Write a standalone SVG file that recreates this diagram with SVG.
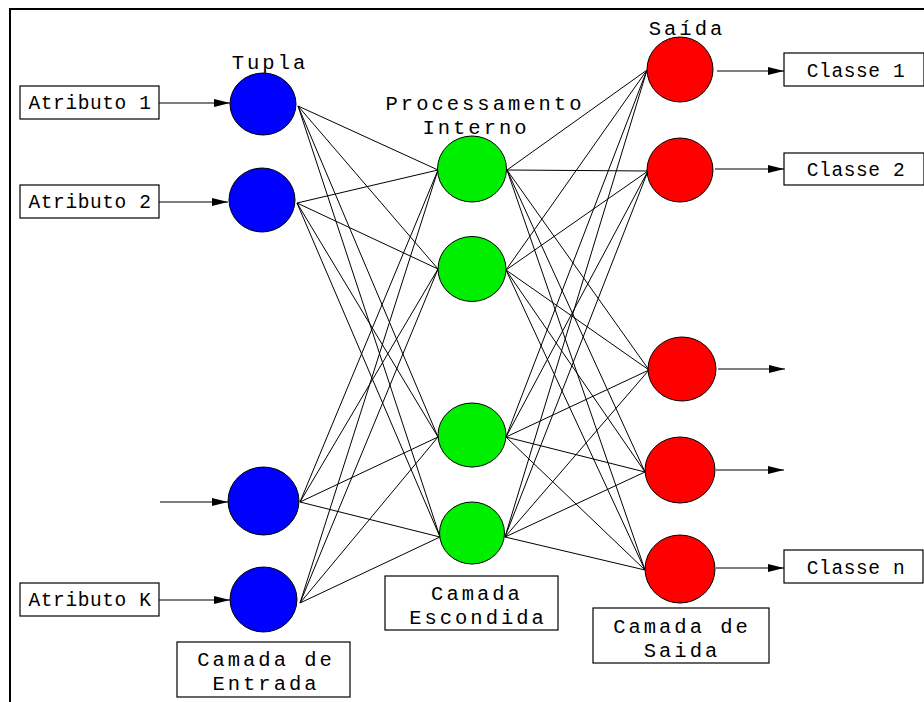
<svg xmlns="http://www.w3.org/2000/svg" width="924" height="702" viewBox="0 0 924 702">
  <style>
    .frame { fill: none; stroke: #000; stroke-width: 2; }
    .box { fill: #fff; stroke: #000; stroke-width: 1.2; }
    .lbl { font-family: "Liberation Mono", "DejaVu Sans Mono", monospace; fill: #000; text-anchor: middle; }
    .small { font-size: 19.5px; letter-spacing: 0.6px; }
    .big { font-size: 20.5px; letter-spacing: 3px; }
    .edge { stroke: #000; stroke-width: 1; fill: none; }
    .arrow { stroke: #000; stroke-width: 1.2; fill: none; marker-end: url(#tip); }
    .in { fill: #0000ff; stroke: #000; stroke-width: 1; }
    .hid { fill: #00ee00; stroke: #000; stroke-width: 1; }
    .out { fill: #ff0000; stroke: #000; stroke-width: 1; }
  </style>
  <defs>
    <marker id="tip" viewBox="0 0 16 8" refX="16" refY="4" markerWidth="16" markerHeight="8" markerUnits="userSpaceOnUse" orient="auto">
      <path d="M0,0 L16,4 L0,8 Z" fill="#000"/>
    </marker>
  </defs>

  <rect width="924" height="702" fill="#fff"/>
  <!-- page border: top and left edges -->
  <path class="frame" d="M10,702 L10,9 L924,9"/>

  <!-- connectors -->
  <g id="connectors">
    <!-- input layer to hidden layer -->
    <g id="in-hidden">
      <line class="edge" x1="298" y1="106" x2="438" y2="170"/>
      <line class="edge" x1="298" y1="106" x2="438" y2="269"/>
      <line class="edge" x1="298" y1="106" x2="438" y2="437"/>
      <line class="edge" x1="298" y1="106" x2="440" y2="537"/>
      <line class="edge" x1="297" y1="203" x2="438" y2="170"/>
      <line class="edge" x1="297" y1="203" x2="438" y2="269"/>
      <line class="edge" x1="297" y1="203" x2="438" y2="437"/>
      <line class="edge" x1="297" y1="203" x2="440" y2="537"/>
      <line class="edge" x1="300" y1="502" x2="438" y2="170"/>
      <line class="edge" x1="300" y1="502" x2="438" y2="269"/>
      <line class="edge" x1="300" y1="502" x2="438" y2="437"/>
      <line class="edge" x1="300" y1="502" x2="440" y2="537"/>
      <line class="edge" x1="300" y1="603" x2="438" y2="170"/>
      <line class="edge" x1="300" y1="603" x2="438" y2="269"/>
      <line class="edge" x1="300" y1="603" x2="438" y2="437"/>
      <line class="edge" x1="300" y1="603" x2="440" y2="537"/>
    </g>
    <!-- hidden layer to output layer -->
    <g id="hidden-out">
      <line class="edge" x1="507" y1="170" x2="647" y2="70"/>
      <line class="edge" x1="507" y1="170" x2="648" y2="171"/>
      <line class="edge" x1="507" y1="170" x2="649" y2="370"/>
      <line class="edge" x1="507" y1="170" x2="645" y2="472"/>
      <line class="edge" x1="507" y1="170" x2="645" y2="570"/>
      <line class="edge" x1="506" y1="270" x2="647" y2="70"/>
      <line class="edge" x1="506" y1="270" x2="648" y2="171"/>
      <line class="edge" x1="506" y1="270" x2="649" y2="370"/>
      <line class="edge" x1="506" y1="270" x2="645" y2="472"/>
      <line class="edge" x1="506" y1="270" x2="645" y2="570"/>
      <line class="edge" x1="506" y1="437" x2="647" y2="70"/>
      <line class="edge" x1="506" y1="437" x2="648" y2="171"/>
      <line class="edge" x1="506" y1="437" x2="649" y2="370"/>
      <line class="edge" x1="506" y1="437" x2="645" y2="472"/>
      <line class="edge" x1="506" y1="437" x2="645" y2="570"/>
      <line class="edge" x1="505" y1="537" x2="647" y2="70"/>
      <line class="edge" x1="505" y1="537" x2="648" y2="171"/>
      <line class="edge" x1="505" y1="537" x2="649" y2="370"/>
      <line class="edge" x1="505" y1="537" x2="645" y2="472"/>
      <line class="edge" x1="505" y1="537" x2="645" y2="570"/>
    </g>
    <!-- attribute inputs -->
    <line class="arrow" x1="159" y1="103" x2="230" y2="103"/>
    <line class="arrow" x1="159" y1="202" x2="228" y2="202"/>
    <line class="arrow" x1="160" y1="502" x2="228" y2="502"/>
    <line class="arrow" x1="159" y1="600" x2="230" y2="600"/>
    <!-- class outputs -->
    <line class="arrow" x1="717" y1="71" x2="784" y2="71"/>
    <line class="arrow" x1="715" y1="169" x2="784" y2="169"/>
    <line class="arrow" x1="718" y1="369" x2="785" y2="369"/>
    <line class="arrow" x1="716" y1="470" x2="784" y2="470"/>
    <line class="arrow" x1="716" y1="568" x2="784" y2="568"/>
  </g>

  <!-- input attribute boxes -->
  <g id="attr1"><rect class="box" x="20" y="86" width="139" height="33"/><text class="lbl small" x="90" y="109">Atributo 1</text></g>
  <g id="attr2"><rect class="box" x="20" y="185" width="139" height="33"/><text class="lbl small" x="90" y="208">Atributo 2</text></g>
  <g id="attrK"><rect class="box" x="20" y="583" width="139" height="33"/><text class="lbl small" x="90" y="606">Atributo K</text></g>

  <!-- input layer -->
  <g id="in1"><ellipse class="in" cx="263" cy="104" rx="33" ry="31"/></g>
  <g id="in2"><ellipse class="in" cx="262" cy="200" rx="33" ry="32"/></g>
  <g id="in3"><ellipse class="in" cx="263.5" cy="501" rx="35.5" ry="34"/></g>
  <g id="in4"><ellipse class="in" cx="263.5" cy="599.5" rx="33.5" ry="32.5"/></g>

  <!-- hidden layer -->
  <g id="hid1"><ellipse class="hid" cx="472" cy="169" rx="34.5" ry="33"/></g>
  <g id="hid2"><ellipse class="hid" cx="472" cy="269" rx="34" ry="32.5"/></g>
  <g id="hid3"><ellipse class="hid" cx="472" cy="435" rx="34" ry="32"/></g>
  <g id="hid4"><ellipse class="hid" cx="472" cy="533" rx="32.5" ry="31"/></g>

  <!-- output layer -->
  <g id="out1"><ellipse class="out" cx="680" cy="69.5" rx="33" ry="32.5"/></g>
  <g id="out2"><ellipse class="out" cx="680" cy="170" rx="33" ry="32"/></g>
  <g id="out3"><ellipse class="out" cx="682" cy="369" rx="34" ry="32"/></g>
  <g id="out4"><ellipse class="out" cx="680" cy="470" rx="35" ry="33"/></g>
  <g id="out5"><ellipse class="out" cx="680" cy="569" rx="35" ry="34"/></g>

  <!-- class boxes -->
  <g id="class1"><rect class="box" x="784" y="53" width="140" height="33"/><text class="lbl small" x="856" y="77">Classe 1</text></g>
  <g id="class2"><rect class="box" x="784" y="153" width="140" height="32"/><text class="lbl small" x="856" y="176">Classe 2</text></g>
  <g id="classN"><rect class="box" x="784" y="550" width="139" height="33"/><text class="lbl small" x="856" y="574">Classe n</text></g>

  <!-- layer titles -->
  <g id="title-tupla"><text class="lbl big" x="270" y="69">Tupla</text></g>
  <g id="title-proc"><text class="lbl big" x="485" y="110">Processamento</text><text class="lbl big" x="476" y="133.5">Interno</text></g>
  <g id="title-saida"><text class="lbl big" x="687" y="35">Saída</text></g>

  <!-- layer captions -->
  <g id="cap-entrada"><rect class="box" x="177" y="642" width="173" height="55"/><text class="lbl big" x="266" y="666">Camada de</text><text class="lbl big" x="266" y="689.5">Entrada</text></g>
  <g id="cap-escondida"><rect class="box" x="385" y="576" width="173" height="54"/><text class="lbl big" x="477" y="600">Camada</text><text class="lbl big" x="478" y="623.5">Escondida</text></g>
  <g id="cap-saida"><rect class="box" x="593" y="608" width="176" height="55"/><text class="lbl big" x="682" y="633">Camada de</text><text class="lbl big" x="682" y="656.5">Saida</text></g>
</svg>
